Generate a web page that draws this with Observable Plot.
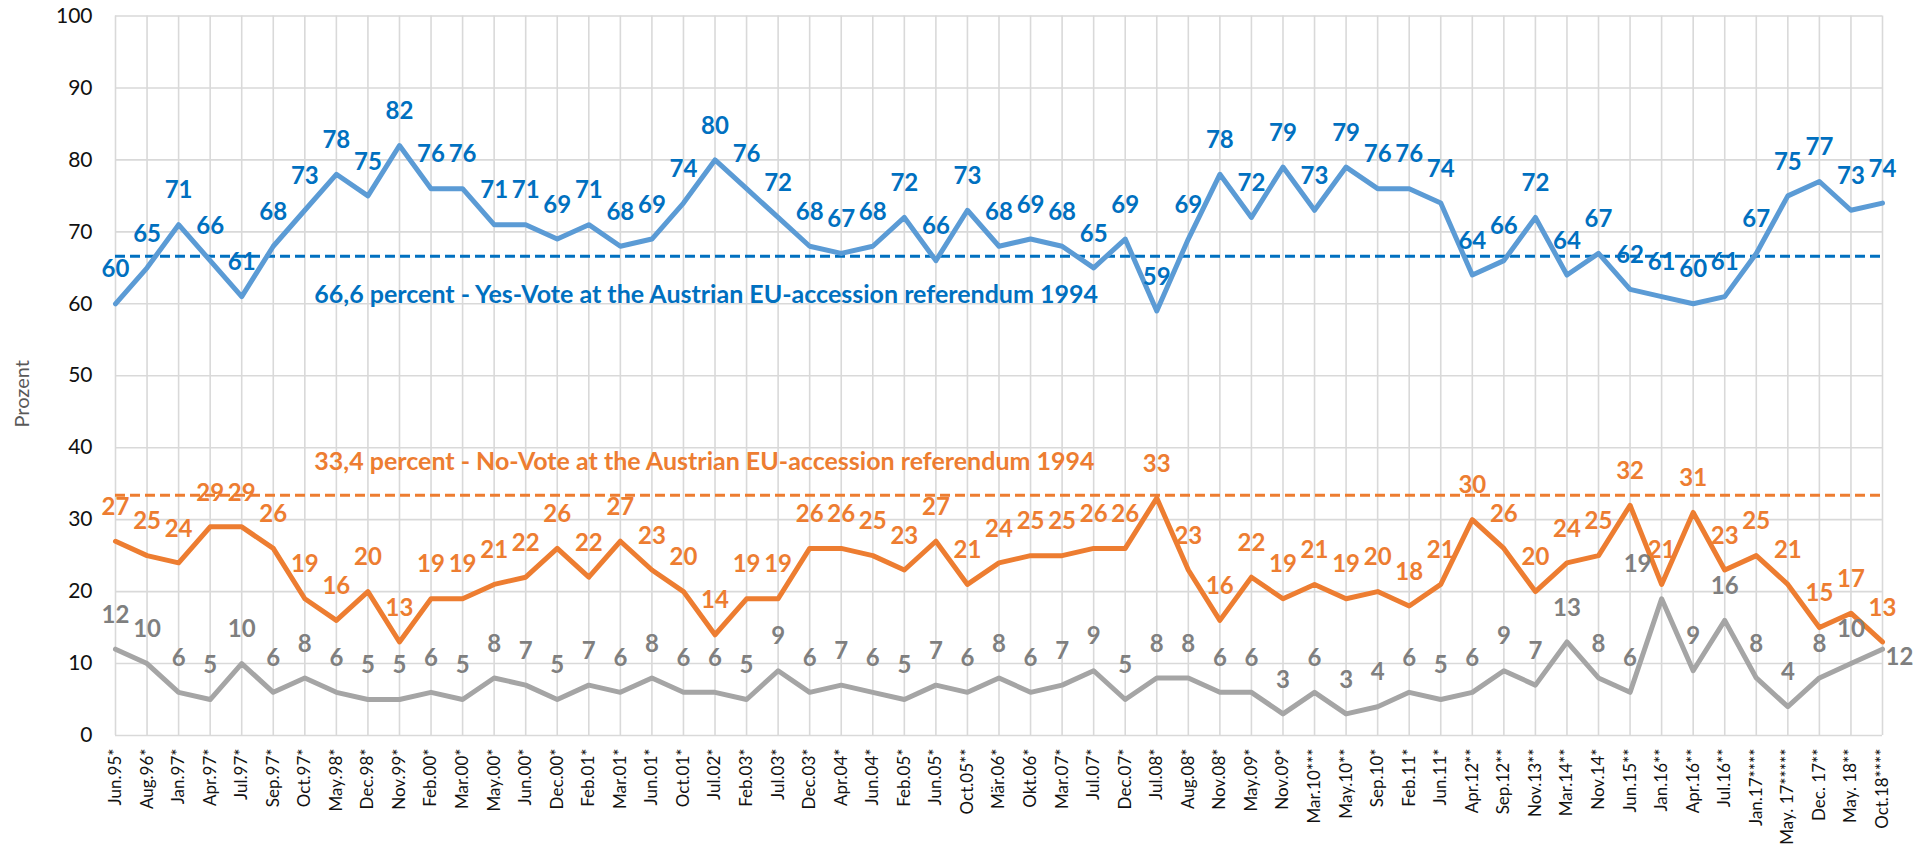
<!DOCTYPE html>
<html>
<head>
<meta charset="utf-8">
<script src="https://cdn.jsdelivr.net/npm/d3@7"></script>
<script src="https://cdn.jsdelivr.net/npm/@observablehq/plot@0.6"></script>
<style>
  html, body { margin: 0; padding: 0; background: #fff; }
  #chart svg { display: block; }
</style>
</head>
<body>
<div id="chart"></div>
<script>
const categories = ["Jun.95*","Aug.96*","Jan.97*","Apr.97*","Jul.97*","Sep.97*","Oct.97*","May.98*","Dec.98*","Nov.99*","Feb.00*","Mar.00*","May.00*","Jun.00*","Dec.00*","Feb.01*","Mar.01*","Jun.01*","Oct.01*","Jul.02*","Feb.03*","Jul.03*","Dec.03*","Apr.04*","Jun.04*","Feb.05*","Jun.05*","Oct.05**","Mär.06*","Okt.06*","Mar.07*","Jul.07*","Dec.07*","Jul.08*","Aug.08*","Nov.08*","May.09*","Nov.09*","Mar.10***","May.10**","Sep.10*","Feb.11*","Jun.11*","Apr.12**","Sep.12**","Nov.13**","Mar.14**","Nov.14*","Jun.15**","Jan.16**","Apr.16**","Jul.16**","Jan.17****","May. 17*****","Dec. 17**","May. 18**","Oct.18****"];
const yesValues = [60,65,71,66,61,68,73,78,75,82,76,76,71,71,69,71,68,69,74,80,76,72,68,67,68,72,66,73,68,69,68,65,69,59,69,78,72,79,73,79,76,76,74,64,66,72,64,67,62,61,60,61,67,75,77,73,74];
const noValues = [27,25,24,29,29,26,19,16,20,13,19,19,21,22,26,22,27,23,20,14,19,19,26,26,25,23,27,21,24,25,25,26,26,33,23,16,22,19,21,19,20,18,21,30,26,20,24,25,32,21,31,23,25,21,15,17,13];
const dkValues = [12,10,6,5,10,6,8,6,5,5,6,5,8,7,5,7,6,8,6,6,5,9,6,7,6,5,7,6,8,6,7,9,5,8,8,6,6,3,6,3,4,6,5,6,9,7,13,8,6,19,9,16,8,4,8,10,12];
const yTicks = [0,10,20,30,40,50,60,70,80,90,100];
const referenceValues = [66.6, 33.4];
const referenceLabels = ["66,6 percent - Yes-Vote at the Austrian EU-accession referendum 1994", "33,4 percent - No-Vote at the Austrian EU-accession referendum 1994"];
const referenceLabelPos = [{x: 6.3, y: 61.2}, {x: 6.3, y: 38.0}];
const yAxisTitle = "Prozent";

const idx = d3.range(categories.length);
const mk = (vals) => vals.map((v, i) => ({i, v}));
const yes = mk(yesValues), no = mk(noValues), dk = mk(dkValues);

const blueLine = "#5B9BD5", blueText = "#0070C0";
const orange = "#ED7D31";
const greyLine = "#A5A5A5", greyText = "#7F7F7F";
const lblFont = {fontSize: 24, fontWeight: "bold", dy: -34, textAnchor: "middle"};

const lastI = categories.length - 1;
const specialGrey = new Set([49, lastI]);

const chart = Plot.plot({
  width: 1927,
  height: 854,
  marginLeft: 115,
  marginRight: 45,
  marginTop: 15.5,
  marginBottom: 119,
  style: {fontFamily: "Lato, 'Open Sans', sans-serif", background: "#fff", overflow: "visible"},
  x: {type: "linear", domain: [0, lastI]},
  y: {domain: [0, 100]},
  marks: [
    Plot.ruleY(yTicks, {stroke: "#D9D9D9", strokeWidth: 1.6}),
    Plot.ruleX(idx, {stroke: "#D9D9D9", strokeWidth: 1.6}),
    Plot.axisY({ticks: yTicks, tickSize: 0, tickPadding: 23, fontSize: 21, label: null, color: "#111"}),
    Plot.axisX({ticks: idx, tickFormat: i => categories[i], tickRotate: -90, tickSize: 0, tickPadding: 13, fontSize: 17, label: null, color: "#111"}),
    Plot.ruleY([referenceValues[0]], {stroke: blueText, strokeWidth: 3, strokeDasharray: "10,5"}),
    Plot.ruleY([referenceValues[1]], {stroke: orange, strokeWidth: 3, strokeDasharray: "10,5"}),
    Plot.line(yes, {x: "i", y: "v", stroke: blueLine, strokeWidth: 5}),
    Plot.line(no, {x: "i", y: "v", stroke: orange, strokeWidth: 5}),
    Plot.line(dk, {x: "i", y: "v", stroke: greyLine, strokeWidth: 5}),
    Plot.text(yes, {x: "i", y: "v", text: d => String(d.v), fill: blueText, ...lblFont}),
    Plot.text(no, {x: "i", y: "v", text: d => String(d.v), fill: orange, ...lblFont}),
    Plot.text(dk.filter(d => !specialGrey.has(d.i)), {x: "i", y: "v", text: d => String(d.v), fill: greyText, ...lblFont}),
    Plot.text(dk.filter(d => d.i === 49), {x: "i", y: "v", text: d => String(d.v), fill: greyText, ...lblFont, dx: -24}),
    Plot.text(dk.filter(d => d.i === lastI), {x: "i", y: "v", text: d => String(d.v), fill: greyText, fontSize: 24, fontWeight: "bold", textAnchor: "start", dx: 3, dy: 8}),
    Plot.text([0], {x: () => referenceLabelPos[0].x, y: () => referenceLabelPos[0].y, text: () => referenceLabels[0], fill: blueText, fontSize: 25, fontWeight: "bold", textAnchor: "start"}),
    Plot.text([0], {x: () => referenceLabelPos[1].x, y: () => referenceLabelPos[1].y, text: () => referenceLabels[1], fill: orange, fontSize: 25, fontWeight: "bold", textAnchor: "start"}),
    Plot.text([yAxisTitle], {frameAnchor: "left", text: d => d, rotate: -90, dx: -93, dy: 18, fill: "#595959", fontSize: 20, textAnchor: "middle"})
  ]
});
document.getElementById("chart").appendChild(chart);
</script>
</body>
</html>
